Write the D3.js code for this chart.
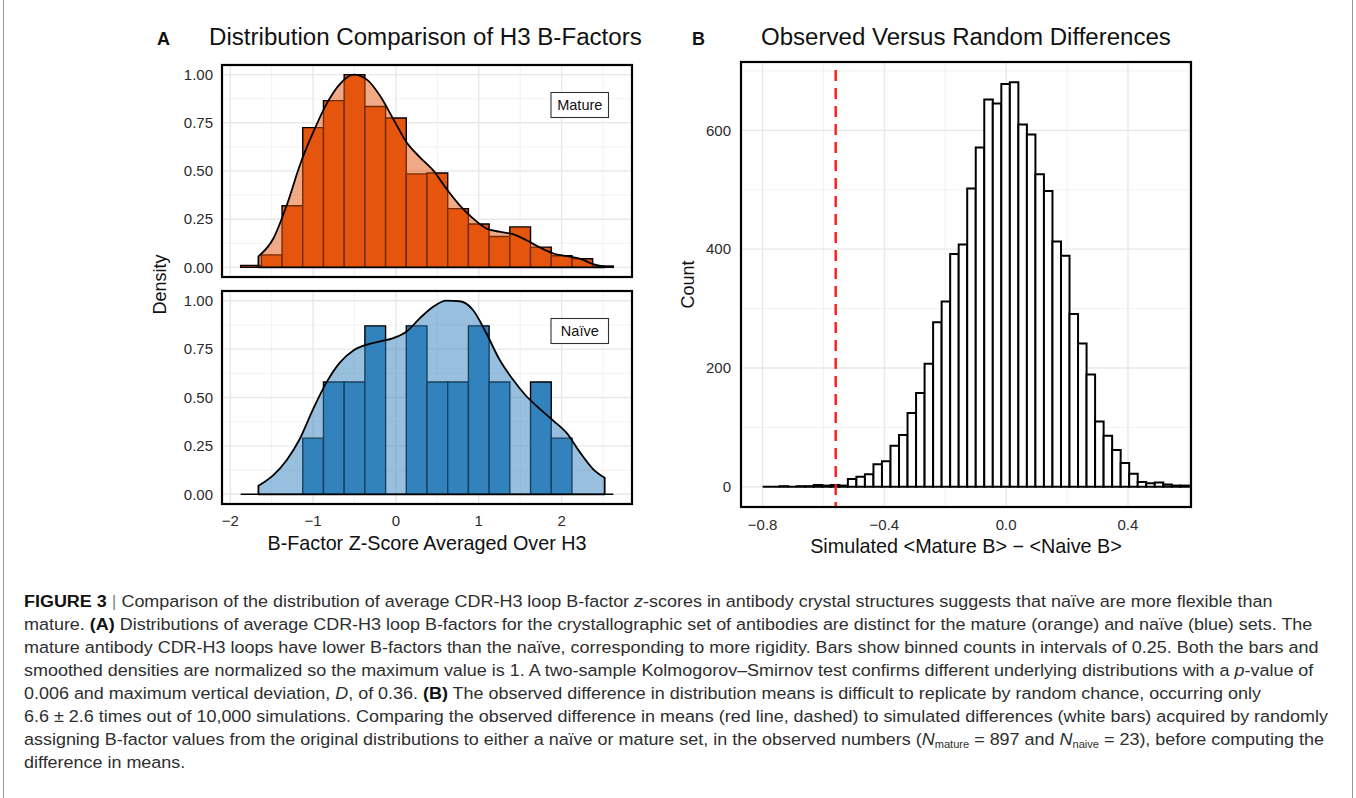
<!DOCTYPE html>
<html>
<head>
<meta charset="utf-8">
<script src="https://cdn.jsdelivr.net/npm/d3@7"></script>
<style>
  body { margin: 0; background: #fff; }
  svg { display: block; font-family: "Liberation Sans", Arial, Helvetica, sans-serif; }
</style>
</head>
<body>
<svg id="fig" width="1356" height="798"></svg>
<script>
// ---- panel A data (bins of 0.25, normalised so max = 1) ----
var binStartA = -1.875;
var binWidthA = 0.25;
var matureBars = [0.01, 0.065, 0.32, 0.725, 0.865, 1.0, 0.835, 0.775, 0.485, 0.49, 0.305, 0.225, 0.16, 0.21, 0.105, 0.06, 0.045, 0.007];
var naiveBars  = [0, 0, 0, 0.29, 0.58, 0.58, 0.87, 0, 0.87, 0.58, 0.58, 0.87, 0.58, 0, 0.58, 0.29, 0, 0];

var densX       = [-1.66, -1.48, -1.32, -1.16, -1.00, -0.84, -0.68, -0.51, -0.35, -0.19, -0.03, 0.13, 0.29, 0.45, 0.61, 0.77, 0.93, 1.09, 1.25, 1.41, 1.57, 1.74, 1.90, 2.06, 2.22, 2.38, 2.52];
var matureDensY = [0.057, 0.15, 0.32, 0.53, 0.70, 0.846, 0.95, 1.0, 0.974, 0.889, 0.768, 0.648, 0.571, 0.503, 0.408, 0.322, 0.254, 0.202, 0.185, 0.172, 0.142, 0.103, 0.072, 0.058, 0.045, 0.017, 0.005];
var naiveDensY  = [0.044, 0.099, 0.176, 0.287, 0.44, 0.577, 0.679, 0.744, 0.773, 0.79, 0.807, 0.841, 0.91, 0.969, 1.0, 0.997, 0.952, 0.833, 0.696, 0.594, 0.509, 0.44, 0.38, 0.317, 0.218, 0.13, 0.085];

var ticksAx = [-2, -1, 0, 1, 2];
var ticksAy = [0, 0.25, 0.5, 0.75, 1];

// ---- panel B data (10,000 simulated differences, 50 bins) ----
var binStartB = -0.8;
var binWidthB = 0.028;
var simCounts = [0, 0, 1, 0, 1, 1, 3, 2, 3, 2,
                 13, 17, 21, 38, 43, 69, 87, 124, 158,
                 207, 277, 312, 392, 408,
                 502, 571, 652, 645, 678, 681, 610, 593, 526, 498,
                 413, 389, 291, 241, 189,
                 110, 86, 62, 40, 22, 8, 6, 7, 4, 2, 2];
var observedDiff = -0.56;
var ticksBx = [-0.8, -0.4, 0, 0.4];
var ticksBy = [0, 200, 400, 600];

var svg = d3.select('#fig');

// frame lines
svg.append('line').attr('x1', 3.5).attr('x2', 3.5).attr('y1', 0).attr('y2', 798)
  .attr('stroke', '#999').attr('stroke-width', 1);
svg.append('line').attr('x1', 1352.5).attr('x2', 1352.5).attr('y1', 0).attr('y2', 798)
  .attr('stroke', '#999').attr('stroke-width', 1);

function fitText(sel, w) {
  var n = sel.node();
  var fs = parseFloat(sel.attr('font-size'));
  var len = n.getComputedTextLength();
  sel.attr('font-size', (fs * w / len).toFixed(2));
}

function grid(g, x, y, box, xMaj, xMin, yMaj, yMin) {
  xMin.forEach(function(v) {
    g.append('line').attr('x1', x(v)).attr('x2', x(v)).attr('y1', box.y0).attr('y2', box.y1)
      .attr('stroke', '#ededed').attr('stroke-width', 0.8);
  });
  yMin.forEach(function(v) {
    g.append('line').attr('y1', y(v)).attr('y2', y(v)).attr('x1', box.x0).attr('x2', box.x1)
      .attr('stroke', '#ededed').attr('stroke-width', 0.8);
  });
  xMaj.forEach(function(v) {
    g.append('line').attr('x1', x(v)).attr('x2', x(v)).attr('y1', box.y0).attr('y2', box.y1)
      .attr('stroke', '#e8e8e8').attr('stroke-width', 1.4);
  });
  yMaj.forEach(function(v) {
    g.append('line').attr('y1', y(v)).attr('y2', y(v)).attr('x1', box.x0).attr('x2', box.x1)
      .attr('stroke', '#e8e8e8').attr('stroke-width', 1.4);
  });
}

function barPath(x, y, x0, x1, v) {
  return 'M' + x(x0) + ',' + y(0) + 'V' + y(v) + 'H' + x(x1) + 'V' + y(0) + 'Z';
}

// ---------------- Panel A ----------------
var boxTop = {x0: 222, x1: 632, y0: 65, y1: 277};
var boxBot = {x0: 222, x1: 632, y0: 291, y1: 504};

var xA = d3.scaleLinear().domain([-2.1, 2.85]).range([boxTop.x0, boxTop.x1]);

function densityPanel(box, bars, densY, color, label, showX) {
  var y = d3.scaleLinear().domain([-0.05, 1.05]).range([box.y1, box.y0]);
  var g = svg.append('g');
  g.append('rect').attr('x', box.x0).attr('y', box.y0).attr('width', box.x1 - box.x0)
    .attr('height', box.y1 - box.y0).attr('fill', '#fff');
  grid(g, xA, y, box, ticksAx, [-1.5, -0.5, 0.5, 1.5, 2.5], ticksAy, [0.125, 0.375, 0.625, 0.875]);

  g.selectAll('.bar').data(bars).enter().append('path')
    .attr('d', function(d, i) {
      return barPath(xA, y, binStartA + i * binWidthA, binStartA + (i + 1) * binWidthA, d);
    })
    .attr('fill', color).attr('stroke', '#000').attr('stroke-width', 1.4)
    .attr('stroke-linejoin', 'miter');

  var pts = densX.map(function(d, i) { return [d, densY[i]]; });
  var area = d3.area().curve(d3.curveMonotoneX)
    .x(function(d) { return xA(d[0]); })
    .y0(y(0))
    .y1(function(d) { return y(d[1]); });
  g.append('path').attr('d', area(pts)).attr('fill', color).attr('fill-opacity', 0.5);
  g.append('path').attr('d', area(pts)).attr('fill', 'none').attr('stroke', '#000')
    .attr('stroke-width', 1.8).attr('stroke-linejoin', 'round');

  g.append('rect').attr('x', box.x0).attr('y', box.y0).attr('width', box.x1 - box.x0)
    .attr('height', box.y1 - box.y0).attr('fill', 'none').attr('stroke', '#000').attr('stroke-width', 2.2);

  // y tick labels
  g.selectAll('.yt').data(ticksAy).enter().append('text')
    .attr('x', box.x0 - 9).attr('y', function(d) { return y(d) + 5.3; })
    .attr('text-anchor', 'end').attr('font-size', 15).attr('fill', '#2b2b2b')
    .text(function(d) { return d3.format('.2f')(d); });

  if (showX) {
    g.selectAll('.xt').data(ticksAx).enter().append('text')
      .attr('x', function(d) { return xA(d); }).attr('y', box.y1 + 22)
      .attr('text-anchor', 'middle').attr('font-size', 15).attr('fill', '#2b2b2b')
      .text(function(d) { return d < 0 ? '\u2212' + Math.abs(d) : d; });
  }

  // label box
  var lb = g.append('g');
  lb.append('rect').attr('x', 551).attr('y', box.y0 + 27.5).attr('width', 57.5).attr('height', 25)
    .attr('fill', '#fff').attr('stroke', '#333').attr('stroke-width', 1.1);
  lb.append('text').attr('x', 579.8).attr('y', box.y0 + 45).attr('text-anchor', 'middle')
    .attr('font-size', 14.5).attr('fill', '#111').text(label);
}

densityPanel(boxTop, matureBars, matureDensY, '#e6550d', 'Mature', false);
densityPanel(boxBot, naiveBars, naiveDensY, '#3182bd', 'Na\u00efve', true);

svg.append('text').attr('x', 157).attr('y', 45).attr('font-size', 18).attr('font-weight', 'bold')
  .attr('fill', '#111').text('A');
var tA = svg.append('text').attr('x', 209).attr('y', 45).attr('font-size', 23).attr('fill', '#111')
  .text('Distribution Comparison of H3 B-Factors');
fitText(tA, 433);

svg.append('text').attr('transform', 'translate(166,284.5) rotate(-90)')
  .attr('text-anchor', 'middle').attr('font-size', 18).attr('fill', '#111').text('Density');
var xLabA = svg.append('text').attr('x', (boxBot.x0 + boxBot.x1) / 2).attr('y', 549.5)
  .attr('text-anchor', 'middle').attr('font-size', 18).attr('fill', '#111')
  .text('B-Factor Z-Score Averaged Over H3');
fitText(xLabA, 319);

// ---------------- Panel B ----------------
var boxB = {x0: 741, x1: 1191, y0: 62, y1: 507};
// axis runs almost to the last bin on the right
var xB = d3.scaleLinear().domain([-0.871, 0.607]).range([boxB.x0, boxB.x1]);
var maxC = d3.max(simCounts);
var yB = d3.scaleLinear().domain([-0.05 * maxC, 1.05 * maxC]).range([boxB.y1, boxB.y0]);

var gB = svg.append('g');
gB.append('rect').attr('x', boxB.x0).attr('y', boxB.y0).attr('width', boxB.x1 - boxB.x0)
  .attr('height', boxB.y1 - boxB.y0).attr('fill', '#fff');
grid(gB, xB, yB, boxB, ticksBx, [-0.6, -0.2, 0.2, 0.6], ticksBy, [100, 300, 500, 700]);

gB.selectAll('.sbar').data(simCounts).enter().append('path')
  .attr('d', function(d, i) {
    return barPath(xB, yB, binStartB + i * binWidthB, binStartB + (i + 1) * binWidthB, d);
  })
  .attr('fill', '#fff').attr('stroke', '#000').attr('stroke-width', 2);

gB.append('line').attr('x1', xB(observedDiff)).attr('x2', xB(observedDiff))
  .attr('y1', boxB.y0 + 1).attr('y2', boxB.y1 - 1)
  .attr('stroke', '#ff1a1a').attr('stroke-width', 2.4).attr('stroke-dasharray', '11,7')
  .attr('stroke-dashoffset', -7);

gB.append('rect').attr('x', boxB.x0).attr('y', boxB.y0).attr('width', boxB.x1 - boxB.x0)
  .attr('height', boxB.y1 - boxB.y0).attr('fill', 'none').attr('stroke', '#000').attr('stroke-width', 2.2);

gB.selectAll('.yt').data(ticksBy).enter().append('text')
  .attr('x', boxB.x0 - 10).attr('y', function(d) { return yB(d) + 5.3; })
  .attr('text-anchor', 'end').attr('font-size', 15).attr('fill', '#2b2b2b')
  .text(function(d) { return d; });
gB.selectAll('.xt').data(ticksBx).enter().append('text')
  .attr('x', function(d) { return xB(d); }).attr('y', boxB.y1 + 23)
  .attr('text-anchor', 'middle').attr('font-size', 15).attr('fill', '#2b2b2b')
  .text(function(d) { return d < 0 ? '\u2212' + d3.format('.1f')(-d) : d3.format('.1f')(d); });

svg.append('text').attr('x', 692).attr('y', 45).attr('font-size', 18).attr('font-weight', 'bold')
  .attr('fill', '#111').text('B');
var tB = svg.append('text').attr('x', 761).attr('y', 45).attr('font-size', 23).attr('fill', '#111')
  .text('Observed Versus Random Differences');
fitText(tB, 410);

svg.append('text').attr('transform', 'translate(694,284.5) rotate(-90)')
  .attr('text-anchor', 'middle').attr('font-size', 18).attr('fill', '#111').text('Count');
var xLabB = svg.append('text').attr('x', (boxB.x0 + boxB.x1) / 2).attr('y', 553)
  .attr('text-anchor', 'middle').attr('font-size', 18).attr('fill', '#111')
  .text('Simulated <Mature B> \u2212 <Naive B>');
fitText(xLabB, 312);

// ---------------- Caption ----------------
var captionLines = [
  [['FIGURE 3', 'b'], [' ', ''], ['|', 'bar'], [' Comparison of the distribution of average CDR-H3 loop B-factor ', ''], ['z', 'i'], ['-scores in antibody crystal structures suggests that na\u00efve are more flexible than', '']],
  [['mature. ', ''], ['(A)', 'b'], [' Distributions of average CDR-H3 loop B-factors for the crystallographic set of antibodies are distinct for the mature (orange) and na\u00efve (blue) sets. The', '']],
  [['mature antibody CDR-H3 loops have lower B-factors than the na\u00efve, corresponding to more rigidity. Bars show binned counts in intervals of 0.25. Both the bars and', '']],
  [['smoothed densities are normalized so the maximum value is 1. A two-sample Kolmogorov\u2013Smirnov test confirms different underlying distributions with a ', ''], ['p', 'i'], ['-value of', '']],
  [['0.006 and maximum vertical deviation, ', ''], ['D', 'i'], [', of 0.36. ', ''], ['(B)', 'b'], [' The observed difference in distribution means is difficult to replicate by random chance, occurring only', '']],
  [['6.6 \u00b1 2.6 times out of 10,000 simulations. Comparing the observed difference in means (red line, dashed) to simulated differences (white bars) acquired by randomly', '']],
  [['assigning B-factor values from the original distributions to either a na\u00efve or mature set, in the observed numbers (', ''], ['N', 'i'], ['mature', 'sub'], [' = 897 and ', ''], ['N', 'i'], ['naive', 'sub'], [' = 23), before computing the', '']],
  [['difference in means.', '']]
];
// measured right-edge widths of the fuller lines, used to set one common horizontal squeeze
var captionWidths = [1022, 1268, 1311, 1310, 1146, 1313, 1294, 192];
var captionTop = 606.5;
var captionStep = 23;

var ratios = [];
var capNodes = [];
captionLines.forEach(function(segs, li) {
  var y0 = captionTop + li * captionStep;
  var g = svg.append('g').attr('transform', 'translate(24,' + y0 + ')');
  var t = g.append('text').attr('x', 0).attr('y', 0).attr('font-size', 17).attr('fill', '#2e2e2e');
  var sub = false;
  segs.forEach(function(s) {
    var ts = t.append('tspan').text(s[0]);
    if (s[1] === 'b') ts.attr('font-weight', 'bold').attr('fill', '#111');
    if (s[1] === 'i') ts.attr('font-style', 'italic');
    if (s[1] === 'bar') ts.attr('fill', '#888');
    if (s[1] === 'sub') { ts.attr('font-size', 10.5).attr('dy', 3); sub = true; }
    else if (sub) { ts.attr('dy', -3); sub = false; }
  });
  ratios.push(captionWidths[li] / t.node().getComputedTextLength());
  capNodes.push({g: g, y: y0});
});
var squeeze = d3.median(ratios);
capNodes.forEach(function(c) {
  c.g.attr('transform', 'translate(24,' + c.y + ') scale(' + squeeze + ',1)');
});
</script>
</body>
</html>
